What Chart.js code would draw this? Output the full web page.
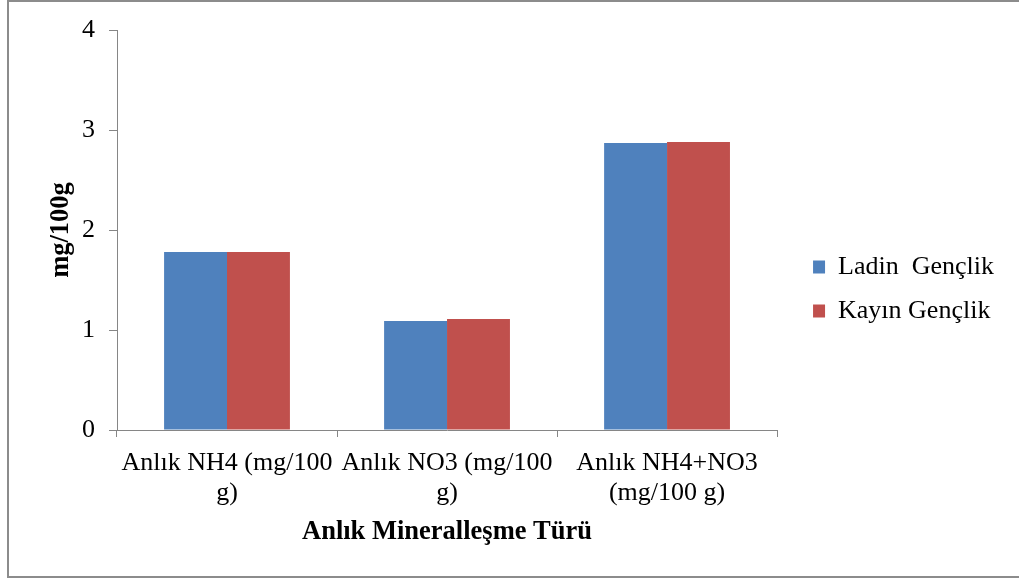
<!DOCTYPE html>
<html>
<head>
<meta charset="utf-8">
<script src="https://cdn.jsdelivr.net/npm/chart.js@4.4.1/dist/chart.umd.min.js"></script>
<style>
  html, body { margin: 0; padding: 0; background: #fff; overflow: hidden; width: 1019px; height: 578px; }
  #frame {
    position: absolute; left: 7px; top: 0; width: 1012px; height: 578px;
    box-sizing: border-box; border: 2px solid #8c8c8c; border-right: none;
  }
  #wrap { position: absolute; left: 0; top: 0; width: 1019px; height: 578px; }
</style>
</head>
<body>
<div id="frame"></div>
<div id="wrap"><canvas id="chart" width="1019" height="578"></canvas></div>
<script>
// Mineralisation categories (multi-line axis labels)
const categories = [
  ['Anlık NH4 (mg/100', 'g)'],
  ['Anlık NO3 (mg/100', 'g)'],
  ['Anlık NH4+NO3', '(mg/100 g)']
];
const seriesNames = ['Ladin  Gençlik', 'Kayın Gençlik'];
const ladinValues = [1.78, 1.09, 2.87];
const kayinValues = [1.78, 1.11, 2.88];
const yTicks = [0, 1, 2, 3, 4];

const seriesColors = ['#4F81BD', '#C0504D'];
const axisGray = '#868686';
const serif = 'Liberation Serif, Times New Roman, serif';

new Chart(document.getElementById('chart'), {
  type: 'bar',
  data: {
    labels: categories,
    datasets: [
      { label: seriesNames[0], data: ladinValues, backgroundColor: seriesColors[0], borderWidth: 0 },
      { label: seriesNames[1], data: kayinValues, backgroundColor: seriesColors[1], borderWidth: 0 }
    ]
  },
  options: {
    responsive: false,
    animation: false,
    devicePixelRatio: 1,
    layout: { padding: { left: 41, right: 15, top: 30, bottom: 30 } },
    datasets: { bar: { categoryPercentage: 0.572, barPercentage: 1 } },
    plugins: {
      tooltip: { enabled: false },
      legend: {
        position: 'right',
        maxWidth: 240,
        labels: {
          boxWidth: 12,
          boxHeight: 13,
          padding: 18,
          color: '#000',
          font: { family: serif, size: 26 }
        }
      }
    },
    scales: {
      x: {
        grid: { display: true, offset: true, drawOnChartArea: false, drawTicks: true, tickLength: 7, color: axisGray },
        border: { display: true, color: axisGray, width: 1 },
        ticks: {
          color: '#000',
          font: { family: serif, size: 26, lineHeight: 1.154 },
          padding: 11,
          maxRotation: 0,
          minRotation: 0,
          autoSkip: false
        },
        title: {
          display: true,
          text: 'Anlık Mineralleşme Türü',
          color: '#000',
          font: { family: serif, size: 26.5, weight: 'bold' },
          padding: { top: 4, bottom: 0 }
        },
        afterFit(scale) { scale.height = 118; }
      },
      y: {
        min: yTicks[0],
        max: yTicks[yTicks.length - 1],
        afterBuildTicks(scale) { scale.ticks = yTicks.map(v => ({ value: v })); },
        grid: { display: true, drawOnChartArea: false, drawTicks: true, tickLength: 8, color: axisGray },
        border: { display: true, color: axisGray, width: 1 },
        ticks: {
          color: '#000',
          font: { family: serif, size: 26 },
          padding: 14
        },
        title: {
          display: true,
          text: 'mg/100g',
          color: '#000',
          font: { family: serif, size: 26.5, weight: 'bold' },
          padding: { top: 4, bottom: 4 }
        },
        afterFit(scale) { scale.width = 76; }
      },
      // spacer between the plot and the legend
      gap: {
        position: 'right',
        display: true,
        grid: { display: false },
        border: { display: false },
        ticks: { display: false },
        afterFit(scale) { scale.width = 18; }
      }
    }
  }
});
</script>
</body>
</html>
